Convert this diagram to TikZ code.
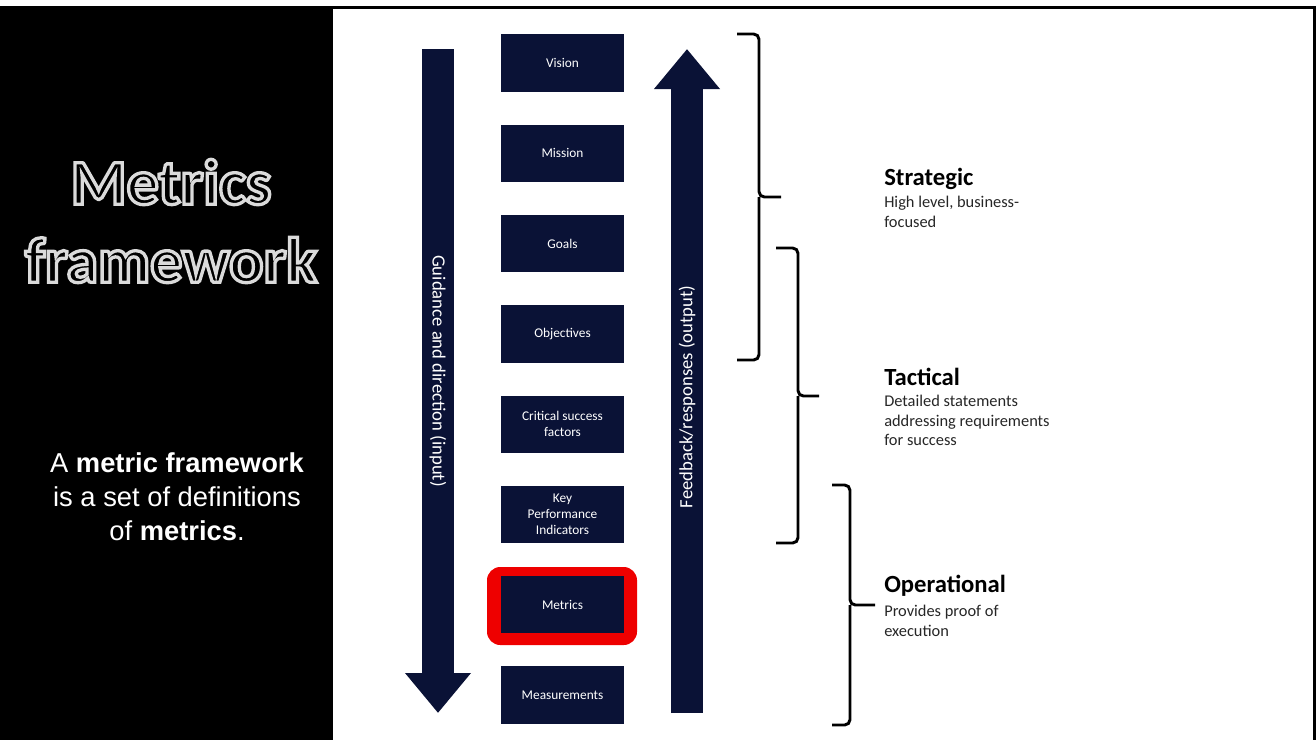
\documentclass[tikz,border=0pt]{standalone}
\usepackage{fontspec}
\setmainfont{Carlito}
\newfontfamily\arialfont{Liberation Sans}
\usetikzlibrary{arrows.meta,positioning}
\definecolor{navy}{RGB}{10,18,54}
\definecolor{hired}{RGB}{238,0,0}
% outlined letters: fill then stroke
\newcommand\outlined[1]{\special{pdf:literal direct 2 Tr 2.5 w 0.86 0.86 0.86 RG}#1\special{pdf:literal direct 0 Tr}}

\begin{document}
\begin{tikzpicture}[x=0.75pt,y=-0.75pt,
  level/.style={fill=navy,text=white,minimum width=92.25pt,minimum height=43pt,align=center,inner sep=1pt,font=\fontsize{10}{12}\selectfont},
  hilite/.style={fill=hired,rounded corners=10pt,minimum width=112.5pt,minimum height=58.5pt},
  bigarrow/.style={navy,line width=24pt,-{Triangle[length=30pt,width=47.5pt]}},
  arrowtext/.style={text=white,sloped,font=\fontsize{14}{16}\selectfont},
  sidebrace/.style={line width=2.2pt,rounded corners=4pt},
  tier/.style={anchor=base west,inner sep=0pt,font=\fontsize{18.5}{22}\selectfont\bfseries},
  tierdesc/.style={anchor=north west,align=left,inner sep=0pt,text=black!85,font=\fontsize{12.3}{14.6}\selectfont}]
\useasboundingbox (0,0) rectangle (1316,740);
% frame and left panel
\fill[black] (0,6) rectangle (333,740);
\fill[black] (333,6) rectangle (1316,9);
\fill[black] (1313,6) rectangle (1316,740);
% title
\node[text=black,align=center,font=\fontsize{48}{58.5}\selectfont\bfseries] (title) at (171,221) {\outlined{Metrics}\\\outlined{framework}};
\node[text=white,align=center,font=\arialfont\fontsize{20.5}{25.5}\selectfont] (intro) at (177,497) {A \textbf{metric framework}\\is a set of definitions\\of \textbf{metrics}.};
% the ladder
\node[hilite] (metricsmark) at (562,606) {};
\foreach \boxname/\boxtext[count=\i from 0] in {vision/Vision,mission/Mission,goals/Goals,objectives/Objectives,csf/{Critical success\\factors},kpi/{Key\\Performance\\Indicators},metrics/Metrics,measurements/Measurements}{\node[level] (\boxname) at (562.5,63+90.3*\i) {\boxtext};};
% arrows
\coordinate (guidestart) at (438,49);
\coordinate (guideend) at (438,713);
\coordinate (feedstart) at (687,713);
\coordinate (feedend) at (687,49);
\draw[bigarrow] (guidestart) -- (guideend) node[arrowtext,pos=0.485] {Guidance and direction (input)};
\draw[bigarrow] (feedstart) -- (feedend) node[arrowtext,pos=0.476] {Feedback/responses (output)};
% braces
\draw[sidebrace] (737,34) -| (759,197) -- (781,197) (759,197) |- (737,360);
\draw[sidebrace] (776,248) -| (798,396) -- (819,396) (798,396) |- (776,543);
\draw[sidebrace] (832,485) -| (850,605) -- (875,605) (850,605) |- (832,725);
% tiers
\node[tier] (strategic) at (884,185) {Strategic};
\node[tierdesc] (strategicdesc) at (884,196) {High level, business-\\focused};
\node[tier] (tactical) at (884,385) {Tactical};
\node[tierdesc] (tacticaldesc) at (884,395) {Detailed statements\\addressing requirements\\for success};
\node[tier] (operational) at (884,592) {Operational};
\node[tierdesc] (operationaldesc) at (884,605) {Provides proof of\\execution};
\end{tikzpicture}
\end{document}
